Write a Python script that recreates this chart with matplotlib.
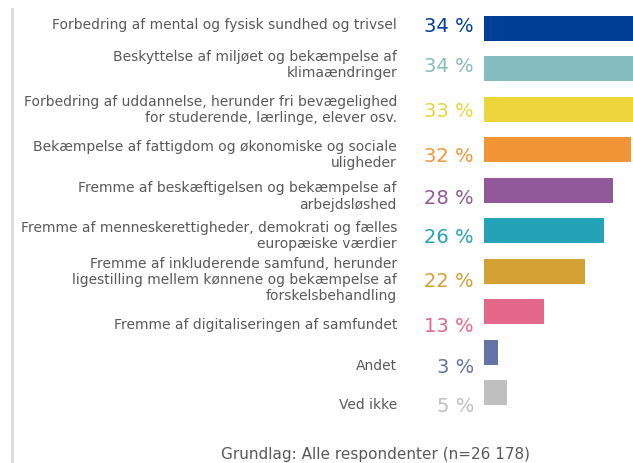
import matplotlib.pyplot as plt

# Data
categories = [
    "Forbedring af mental og fysisk sundhed og trivsel",
    "Beskyttelse af miljøet og bekæmpelse af\nklimaændringer",
    "Forbedring af uddannelse, herunder fri bevægelighed\nfor studerende, lærlinge, elever osv.",
    "Bekæmpelse af fattigdom og økonomiske og sociale\nuligheder",
    "Fremme af beskæftigelsen og bekæmpelse af\narbejdsløshed",
    "Fremme af menneskerettigheder, demokrati og fælles\neuropæiske værdier",
    "Fremme af inkluderende samfund, herunder\nligestilling mellem kønnene og bekæmpelse af\nforskelsbehandling",
    "Fremme af digitaliseringen af samfundet",
    "Andet",
    "Ved ikke",
]
values = [34, 34, 33, 32, 28, 26, 22, 13, 3, 5]
colors = ["#003f98", "#85bcbd", "#ecd43b", "#f39536", "#91589a",
          "#23a2b8", "#d5a033", "#e4688a", "#6373a6", "#bfbfbf"]
footnote = "Grundlag: Alle respondenter (n=26 178)"

# Layout (pixels)
W, H = 633, 464
bar_left = 484
px_per_pct = 4.6
row0, row_step = 29.5, 40.44
label_y = [25, 65, 110, 155, 196.5, 236, 280, 325, 366.5, 405]


def fx(x):
    return x / W


def fy(y):
    return 1 - y / H


fig = plt.figure(figsize=(W / 100, H / 100), dpi=100)

ax = fig.add_axes([fx(bar_left), 0, 1 - fx(bar_left), 1])
ax.barh(range(len(values)), values, height=25 / row_step, color=colors)
ax.set_xlim(0, (W - bar_left) / px_per_pct)
ax.set_ylim((H - row0) / row_step, -row0 / row_step)
ax.axis("off")

text_gray = "#595959"
for cat, v, c, y in zip(categories, values, colors, label_y):
    fig.text(fx(397), fy(y), cat, ha="right", va="center", fontsize=10,
             color=text_gray, linespacing=1.2, family="DejaVu Sans")
    fig.text(fx(474), fy(y + 7), f"{v} %", ha="right", va="baseline",
             fontsize=14, color=c, family="DejaVu Sans")

fig.text(fx(376), fy(455), footnote, ha="center", va="center",
         fontsize=11, color=text_gray, family="DejaVu Sans")

# left grey rule
fig.add_artist(plt.Line2D([fx(12), fx(12)], [fy(10), 0], color="#dcdcdc",
                          lw=2.2))

fig.savefig("out.png", dpi=100)
